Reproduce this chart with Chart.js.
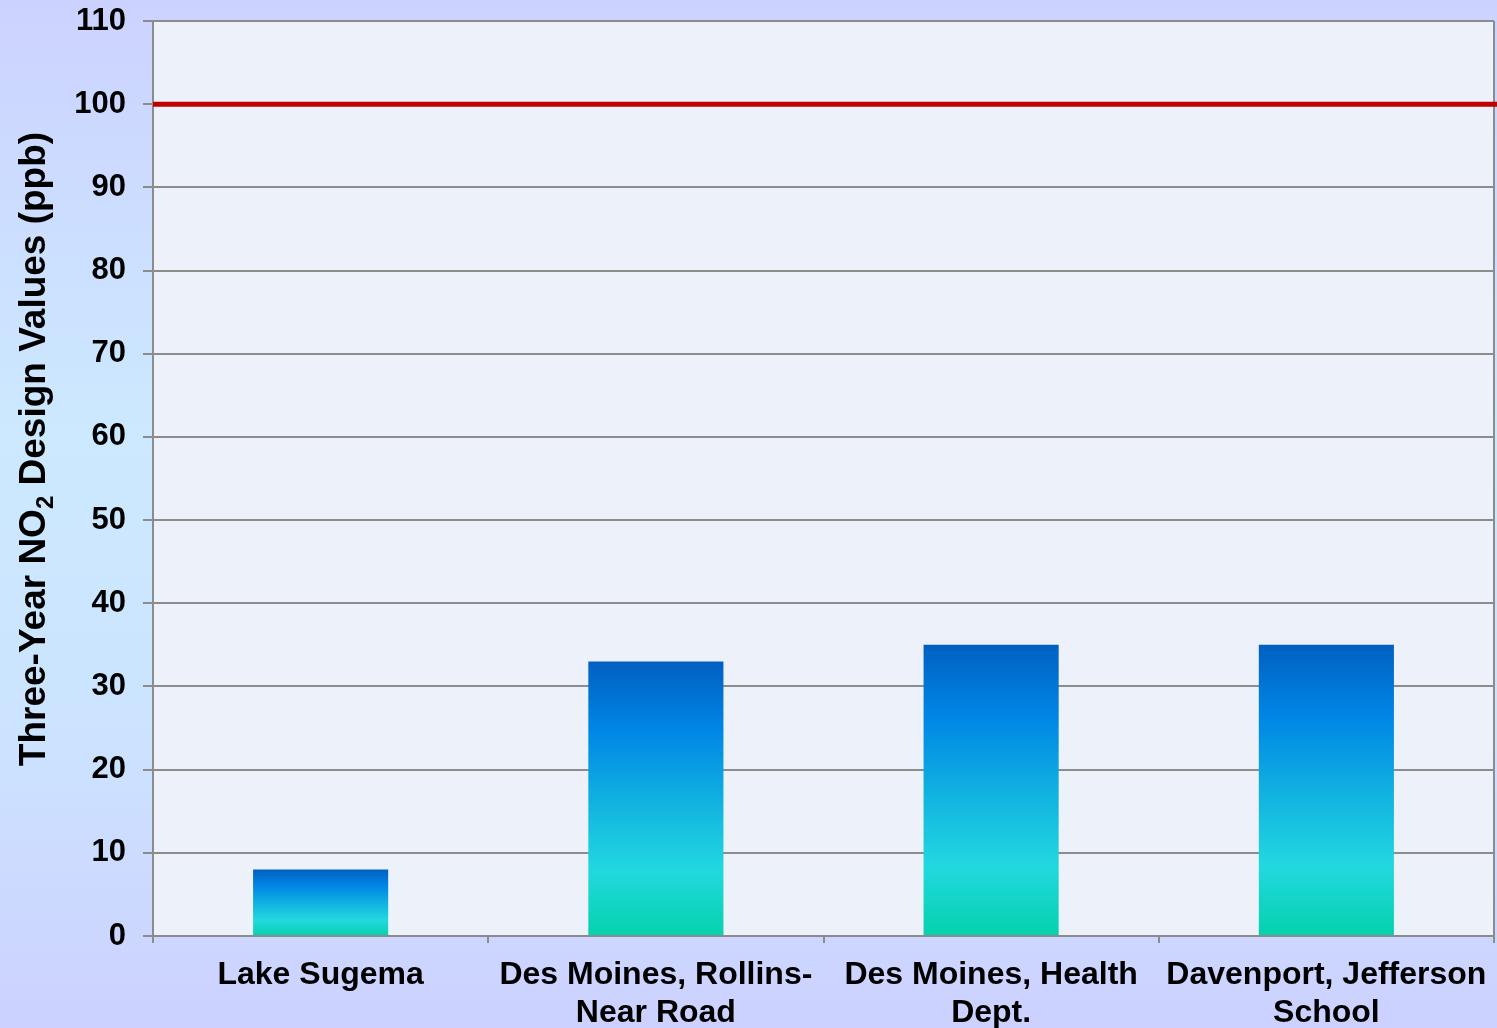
<!DOCTYPE html>
<html>
<head>
<meta charset="utf-8">
<script src="https://cdn.jsdelivr.net/npm/chart.js@4.4.0/dist/chart.umd.min.js"></script>
<style>
    html, body { margin: 0; padding: 0; }
    body {
        width: 1497px;
        height: 1028px;
        overflow: hidden;
        background: linear-gradient(to bottom, #ccd2ff 0%, #cce9ff 42%, #cce4ff 70%, #ccd1ff 100%);
    }
    canvas { display: block; }
</style>
</head>
<body>
<canvas id="myChart" width="1497" height="1028"></canvas>
<script>
const sites = [
    'Lake Sugema',
    ['Des Moines, Rollins-', 'Near Road'],
    ['Des Moines, Health', 'Dept.'],
    ['Davenport, Jefferson', 'School']
];
const designValues = [8, 33, 35, 35];
const standardLevel = 100;
const yMin = 0;
const yMax = 110;
const yStep = 10;

const gridGray = '#8c8c8c';
const fontFamily = 'Arial, "Liberation Sans", sans-serif';

function barGradient(context) {
    let chart = context.chart;
    let area = chart.chartArea;
    if (!area) return '#0088e6';
    let y = chart.scales.y;
    let top = y.getPixelForValue(context.raw);
    let bottom = y.getPixelForValue(0);
    let g = chart.ctx.createLinearGradient(0, top, 0, bottom);
    g.addColorStop(0, '#0060c2');
    g.addColorStop(0.26, '#0088e6');
    g.addColorStop(0.5, '#10b0e0');
    g.addColorStop(0.76, '#22d8e0');
    g.addColorStop(1, '#04d2ac');
    return g;
}

const decorations = {
    id: 'decorations',
    beforeDraw(chart) {
        let ctx = chart.ctx;
        let a = chart.chartArea;
        ctx.save();
        ctx.fillStyle = '#edf1f9';
        ctx.fillRect(a.left, a.top, a.right - a.left, a.bottom - a.top);
        ctx.restore();
    },
    afterDatasetsDraw(chart) {
        let ctx = chart.ctx;
        let a = chart.chartArea;
        let y = chart.scales.y.getPixelForValue(standardLevel);
        ctx.save();
        // right frame line
        ctx.strokeStyle = gridGray;
        ctx.lineWidth = 2;
        ctx.beginPath();
        ctx.moveTo(a.right, a.top);
        ctx.lineTo(a.right, a.bottom);
        ctx.stroke();
        // NAAQS line, runs to the page edge
        ctx.strokeStyle = '#c00000';
        ctx.lineWidth = 5;
        ctx.beginPath();
        ctx.moveTo(a.left, y);
        ctx.lineTo(chart.width, y);
        ctx.stroke();
        ctx.restore();
    },
    afterDraw(chart) {
        // y axis title with a real subscript
        let ctx = chart.ctx;
        let big = 'bold 37px ' + fontFamily;
        let small = 'bold 24px ' + fontFamily;
        let p1 = 'Three-Year NO';
        let p2 = '2';
        let p3 = ' Design Values (ppb)';
        ctx.save();
        ctx.font = big;
        let w1 = ctx.measureText(p1).width;
        let w3 = ctx.measureText(p3).width;
        ctx.font = small;
        let w2 = ctx.measureText(p2).width;
        let total = w1 + w2 + w3;
        ctx.translate(45, 449);
        ctx.rotate(-Math.PI / 2);
        ctx.fillStyle = '#000';
        ctx.textBaseline = 'alphabetic';
        ctx.textAlign = 'left';
        let x = -total / 2;
        ctx.font = big;
        ctx.fillText(p1, x, 0);
        ctx.font = small;
        ctx.fillText(p2, x + w1, 8);
        ctx.font = big;
        ctx.fillText(p3, x + w1 + w2, 0);
        ctx.restore();
    }
};

new Chart(document.getElementById('myChart'), {
    type: 'bar',
    data: {
        labels: sites,
        datasets: [{
            data: designValues,
            backgroundColor: barGradient,
            borderWidth: 0,
            barPercentage: 0.403,
            categoryPercentage: 1
        }]
    },
    options: {
        responsive: false,
        animation: false,
        layout: { padding: { top: 21, right: 3, left: 0, bottom: 0 } },
        plugins: {
            legend: { display: false },
            tooltip: { enabled: false }
        },
        scales: {
            x: {
                offset: true,
                afterFit: scale => {
                    scale.height = 92;
                    scale.paddingLeft = 0;
                    scale.paddingRight = 0;
                },
                grid: {
                    offset: true,
                    drawOnChartArea: false,
                    drawTicks: true,
                    tickLength: 7,
                    color: gridGray,
                    lineWidth: 2
                },
                border: { display: true, color: gridGray, width: 2 },
                ticks: {
                    color: '#000',
                    font: { family: fontFamily, size: 32, weight: 'bold', lineHeight: 1.16 },
                    padding: 14,
                    maxRotation: 0,
                    minRotation: 0,
                    autoSkip: false
                }
            },
            y: {
                min: yMin,
                max: yMax,
                afterFit: scale => {
                    scale.width = 153;
                    scale.paddingTop = 0;
                    scale.paddingBottom = 0;
                },
                grid: {
                    color: gridGray,
                    lineWidth: 2,
                    tickLength: 10
                },
                border: { display: true, color: gridGray, width: 2 },
                ticks: {
                    stepSize: yStep,
                    color: '#000',
                    font: { family: fontFamily, size: 31, weight: 'bold' },
                    padding: 17
                }
            }
        }
    },
    plugins: [decorations]
});
</script>
</body>
</html>
